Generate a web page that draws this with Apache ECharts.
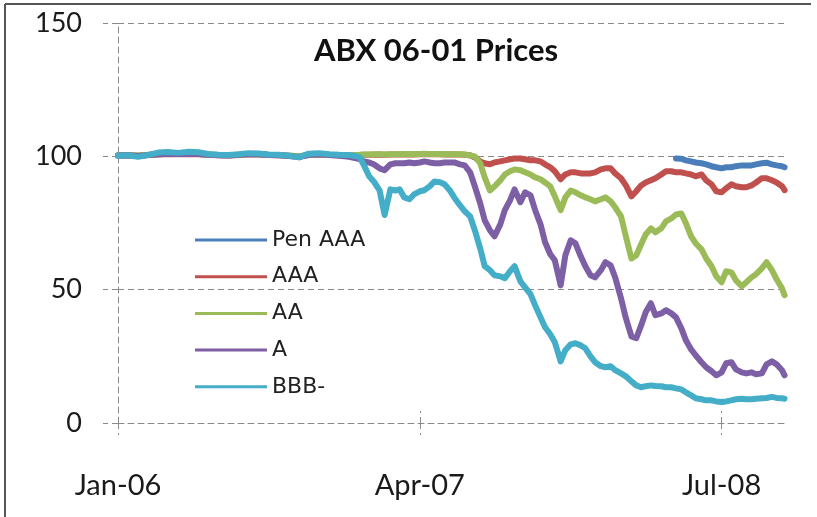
<!DOCTYPE html>
<html>
<head>
<meta charset="utf-8">
<script src="https://cdn.jsdelivr.net/npm/echarts@6/dist/echarts.min.js"></script>
<style>
html,body{margin:0;padding:0;background:#fff;}
#chart{width:817px;height:517px;}
</style>
</head>
<body>
<div id="chart"></div>
<script>
// ---- Data ----
const dates = [
"2006-01-01","2006-01-16","2006-02-01","2006-02-16","2006-03-01","2006-03-16","2006-04-01","2006-04-16",
"2006-05-01","2006-05-16","2006-06-01","2006-06-16","2006-07-01","2006-07-16","2006-08-01","2006-08-16",
"2006-09-01","2006-09-16","2006-10-01","2006-10-16","2006-11-01","2006-11-16","2006-12-01","2006-12-16",
"2007-01-01","2007-01-08","2007-01-16","2007-01-23","2007-02-01","2007-02-08","2007-02-16","2007-02-23",
"2007-03-01","2007-03-08","2007-03-16","2007-03-23","2007-04-01","2007-04-08","2007-04-16","2007-04-23",
"2007-05-01","2007-05-08","2007-05-16","2007-05-23","2007-06-01","2007-06-08","2007-06-16","2007-06-23",
"2007-07-01","2007-07-08","2007-07-16","2007-07-23","2007-08-01","2007-08-08","2007-08-16","2007-08-23",
"2007-09-01","2007-09-08","2007-09-16","2007-09-23","2007-10-01","2007-10-08","2007-10-16","2007-10-23",
"2007-11-01","2007-11-08","2007-11-16","2007-11-23","2007-12-01","2007-12-08","2007-12-16","2007-12-23",
"2008-01-01","2008-01-08","2008-01-16","2008-01-23","2008-02-01","2008-02-08","2008-02-16","2008-02-23",
"2008-03-01","2008-03-08","2008-03-16","2008-03-23","2008-04-01","2008-04-08","2008-04-16","2008-04-23",
"2008-05-01","2008-05-08","2008-05-16","2008-05-23","2008-06-01","2008-06-08","2008-06-16","2008-06-23",
"2008-07-01","2008-07-08","2008-07-16","2008-07-23","2008-08-01","2008-08-08","2008-08-16","2008-08-23",
"2008-09-01","2008-09-08","2008-09-16","2008-09-23","2008-10-01","2008-10-05"
];

const bbb = [
100.2,100.4,99.8,100.6,101.4,101.6,101.3,101.7,101.5,100.9,100.6,100.5,100.8,101.2,101.1,100.7,100.6,100.2,99.6,101.0,101.2,100.8,100.6,100.5,
99.8,96.6,92.5,90.6,87.2,78.0,87.6,87.2,87.6,84.6,83.9,85.7,86.9,87.3,88.8,90.6,90.3,89.5,87.3,84.6,81.6,79.4,77.5,72.3,
65.5,58.8,57.3,55.4,55.0,54.3,56.9,58.8,53.1,50.9,48.3,44.1,39.6,35.9,33.3,30.3,23.1,27.3,29.5,29.9,29.1,28.0,25.0,22.8,
21.3,20.9,21.3,19.8,18.6,17.5,15.6,14.1,13.4,13.8,14.1,13.9,13.8,13.4,13.4,13.0,12.6,11.5,10.4,9.3,8.9,8.5,8.5,8.1,
7.9,8.1,8.5,8.9,9.1,8.9,8.9,9.1,9.3,9.4,9.8,9.4,9.3,9.1
];

const ratingA = [
100.3,100.4,100.1,100.5,100.8,101.0,100.9,101.0,100.9,100.6,100.4,100.3,100.6,100.9,100.8,100.5,100.4,100.1,99.7,100.6,100.8,100.5,100.2,99.8,
99.0,98.1,97.7,97.0,95.5,94.8,97.0,97.4,97.4,97.4,97.7,97.4,97.7,98.1,97.7,97.4,97.4,97.7,97.7,97.7,97.0,96.6,94.0,88.8,
82.4,76.0,72.3,70.0,74.5,79.8,83.5,87.6,82.8,86.5,85.4,79.8,74.5,67.8,63.3,61.0,51.6,62.9,68.5,67.4,62.5,58.8,55.4,54.6,
57.3,60.3,59.1,54.6,46.8,39.3,32.5,31.8,36.6,41.5,44.9,40.4,41.1,42.3,41.1,39.6,35.5,31.0,27.6,25.4,22.8,20.9,19.4,17.9,
19.0,22.4,22.8,20.1,19.0,18.6,19.0,18.3,18.6,22.0,23.1,22.0,19.8,17.9
];

const ratingAA = [
100.4,100.5,100.3,100.6,100.8,101.0,100.9,101.0,100.9,100.7,100.5,100.4,100.6,100.8,100.8,100.6,100.5,100.3,100.0,100.6,100.8,100.6,100.5,100.5,
100.6,100.7,100.7,100.8,100.8,100.7,100.8,100.8,100.9,100.9,100.8,100.9,100.9,101.0,100.9,100.9,100.9,100.8,100.8,100.9,100.8,100.7,100.3,100.0,
97.4,92.1,87.2,88.7,91.0,93.2,94.4,95.1,94.8,94.0,93.2,92.1,91.4,90.2,88.7,85.0,79.8,84.6,87.2,86.5,85.4,84.6,83.9,83.1,
83.9,84.6,83.1,80.9,77.5,70.0,61.7,62.9,67.0,70.7,73.0,71.5,73.0,75.6,76.7,78.2,78.6,74.9,70.0,67.4,65.1,61.7,58.8,55.0,
52.8,56.9,56.5,53.5,51.3,52.8,54.6,55.8,58.0,60.3,57.3,53.9,50.5,47.9
];

const ratingAAA = [
100.3,100.4,100.2,100.5,100.7,100.9,100.8,100.9,100.8,100.6,100.4,100.3,100.5,100.7,100.7,100.5,100.4,100.2,99.9,100.5,100.7,100.5,100.4,100.4,
100.5,100.6,100.6,100.6,100.7,100.6,100.7,100.7,100.7,100.7,100.7,100.7,100.8,100.8,100.8,100.8,100.8,100.7,100.7,100.7,100.7,100.6,100.4,99.6,
98.1,97.4,97.0,97.7,98.1,98.5,98.9,99.2,99.2,98.9,98.5,98.5,98.1,97.0,95.9,94.4,91.4,93.2,94.0,94.0,93.6,93.6,93.6,94.0,
95.1,95.5,95.5,93.6,91.8,89.1,85.0,86.9,89.1,90.2,91.0,91.8,93.2,94.4,94.4,94.0,94.0,93.6,93.2,92.5,93.2,91.0,89.5,86.9,
86.5,88.0,89.5,88.8,88.4,88.4,89.1,90.2,91.8,91.8,91.0,90.2,88.8,87.3
];

// Pen AAA only trades from late April 2008 (last 23 dates)
const penAAA = [
99.2,99.1,98.5,98.1,97.7,97.4,97.0,96.3,95.9,
95.5,95.9,95.9,96.3,96.6,96.6,96.6,97.0,97.4,97.6,97.0,96.6,96.3,95.9
];

const seriesNames = ["Pen AAA","AAA","AA","A","BBB-"];
const seriesColors = ["#4a7ebb","#c0504d","#9bbb59","#7d5fa6","#44adc7"];
const tickMonths = [0, 15, 30];
const tickLabels = ["Jan-06","Apr-07","Jul-08"];

// ---- helpers ----
function monthIndex(s) {
  const [y, m, d] = s.split("-").map(Number);
  const dim = new Date(y, m, 0).getDate();
  return (y - 2006) * 12 + (m - 1) + (d - 1) / dim;
}
function pair(ds, vals) {
  return vals.map((v, i) => [monthIndex(ds[i]), v]);
}
const penDates = dates.slice(dates.length - penAAA.length);
const seriesData = [
  pair(penDates, penAAA),
  pair(dates, ratingAAA),
  pair(dates, ratingAA),
  pair(dates, ratingA),
  pair(dates, bbb)
];

const gridColor = "#8a8a8a";
const dash = [6, 4];
const xMax = 33.2;

const chart = echarts.init(document.getElementById("chart"), null, {renderer: "canvas"});
chart.setOption({
  animation: false,
  backgroundColor: "#ffffff",
  title: {
    text: "ABX 06-01 Prices",
    left: 436, top: 35, padding: 0,
    textAlign: "center",
    textStyle: {fontFamily: "Lato", fontWeight: "bold", fontSize: 31, color: "#111"}
  },
  legend: {
    orient: "vertical",
    left: 195, top: 229, padding: 0,
    itemWidth: 72, itemHeight: 14, itemGap: 14.7,
    data: seriesNames.map((n, i) => ({name: n, icon: "path://M0,0 L72,0 L72,3 L0,3 Z", itemStyle: {color: seriesColors[i]}})),
    textStyle: {fontFamily: "DejaVu Sans", fontSize: 22, lineHeight: 22, color: "#222"}
  },
  grid: {left: 118, right: 31, top: 23, bottom: 94, containLabel: false},
  xAxis: [{
    type: "value", min: 0, max: xMax, interval: 15,
    axisLine: {show: true, lineStyle: {color: gridColor, type: dash, width: 1}},
    axisTick: {show: true, length: 12, customValues: tickMonths, lineStyle: {color: gridColor, type: dash}},
    axisLabel: {
      customValues: tickMonths, margin: 48,
      fontFamily: "Lato", fontSize: 29, color: "#1a1a1a",
      formatter: v => { const k = tickMonths.indexOf(Math.round(v)); return k >= 0 ? tickLabels[k] : ""; }
    },
    splitLine: {show: false}
  }, {
    type: "value", min: 0, max: xMax, interval: 15, position: "bottom",
    axisLine: {show: false},
    axisTick: {show: true, inside: true, length: 12, customValues: tickMonths, lineStyle: {color: gridColor, type: dash}},
    axisLabel: {show: false},
    splitLine: {show: false}
  }],
  yAxis: {
    type: "value", min: 0, max: 150, interval: 50,
    axisLine: {show: true, lineStyle: {color: gridColor, type: dash, width: 1}},
    axisTick: {show: true, length: 15, lineStyle: {color: gridColor, type: dash}},
    axisLabel: {margin: 36, fontFamily: "Lato", fontSize: 27, color: "#1a1a1a"},
    splitLine: {show: true, lineStyle: {color: gridColor, type: dash, width: 1}}
  },
  series: seriesNames.map((n, i) => ({
    name: n, type: "line", xAxisIndex: 0,
    data: seriesData[i],
    symbol: "none", showSymbol: false,
    lineStyle: {color: seriesColors[i], width: 6, join: "round", cap: "round"},
    itemStyle: {color: seriesColors[i]},
    z: 2 + i
  })),
  graphic: [
    {type: "line", shape: {x1: 5, y1: 4, x2: 811, y2: 4}, style: {stroke: "#555", lineWidth: 2}, z: 100},
    {type: "line", shape: {x1: 5, y1: 4, x2: 5, y2: 517}, style: {stroke: "#555", lineWidth: 2}, z: 100}
  ]
});
</script>
</body>
</html>
